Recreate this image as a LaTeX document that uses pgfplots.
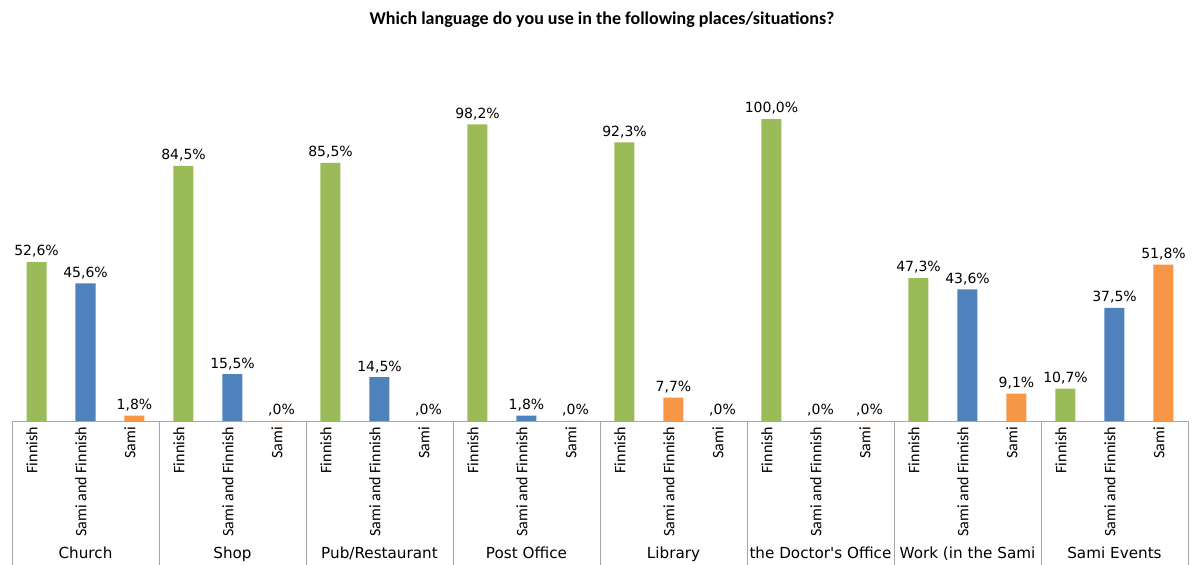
\documentclass[border=0pt]{standalone}
\usepackage{pgfplots}
\pgfplotsset{compat=1.18}
\usepackage{fontspec}
\setmainfont{Carlito}
\newfontfamily\dv{DejaVu Sans}
\definecolor{cgreen}{HTML}{9BBB59}
\definecolor{cblue}{HTML}{4F81BD}
\definecolor{corange}{HTML}{F79646}
\definecolor{cgrid}{HTML}{A6A6A6}
\begin{document}
\begin{tikzpicture}[x=1pt,y=1pt]
\path[use as bounding box] (0,0) rectangle (1192,565);
\node[font=\bfseries\fontsize{18}{20}\selectfont] at (602,545) {Which language do you use in the following places/situations?};
\begin{axis}[
  at={(36.5pt,144pt)}, anchor=origin,
  scale only axis, width=1176pt, height=371pt,
  xmin=-0.5, xmax=23.5, ymin=0, ymax=122.85,
  ybar, bar width=20pt,
  axis x line*=bottom, axis y line=none,
  x axis line style={cgrid, line width=0.8pt, -},
  xtick={0,...,23},
  xticklabels={Finnish,Sami and Finnish,Sami,Finnish,Sami and Finnish,Sami,Finnish,Sami and Finnish,Sami,Finnish,Sami and Finnish,Sami,Finnish,Sami and Finnish,Sami,Finnish,Sami and Finnish,Sami,Finnish,Sami and Finnish,Sami,Finnish,Sami and Finnish,Sami},
  major tick length=0pt,
  xticklabel style={rotate=90, anchor=base east, font=\fontsize{16}{18}\selectfont, inner sep=0pt, xshift=-6pt, yshift=-1pt},
  extra x ticks={-0.5,2.5,5.5,8.5,11.5,14.5,17.5,20.5,23.5},
  extra x tick labels={},
  extra x tick style={major tick length=150pt, tick align=outside, tick style={cgrid, line width=0.8pt}},
  clip=false,
  nodes near coords,
  point meta=explicit symbolic,
  every node near coord/.append style={font=\dv\fontsize{14}{16}\selectfont, black, yshift=1pt},
]
\addplot[bar shift=0pt, fill=cgreen, draw=none] coordinates {
  (0,52.6) [52,6\%]
  (3,84.5) [84,5\%]
  (6,85.5) [85,5\%]
  (9,98.2) [98,2\%]
  (12,92.3) [92,3\%]
  (15,100.0) [100,0\%]
  (18,47.3) [47,3\%]
  (21,10.7) [10,7\%]
};
\addplot[bar shift=0pt, fill=cblue, draw=none] coordinates {
  (1,45.6) [45,6\%]
  (4,15.5) [15,5\%]
  (7,14.5) [14,5\%]
  (10,1.8) [1,8\%]
  (16,0) [,0\%]
  (19,43.6) [43,6\%]
  (22,37.5) [37,5\%]
};
\addplot[bar shift=0pt, fill=corange, draw=none] coordinates {
  (2,1.8) [1,8\%]
  (5,0) [,0\%]
  (8,0) [,0\%]
  (11,0) [,0\%]
  (13,7.7) [7,7\%]
  (14,0) [,0\%]
  (17,0) [,0\%]
  (20,9.1) [9,1\%]
  (23,51.8) [51,8\%]
};
\tikzset{grplab/.style={font=\dv\fontsize{15.2}{17}\selectfont, anchor=base, yshift=-137pt}}
\node[grplab] at (axis cs:1,0) {Church};
\node[grplab] at (axis cs:4,0) {Shop};
\node[grplab] at (axis cs:7,0) {Pub/Restaurant};
\node[grplab] at (axis cs:10,0) {Post Office};
\node[grplab] at (axis cs:13,0) {Library};
\node[grplab] at (axis cs:16,0) {the Doctor's Office};
\node[grplab] at (axis cs:19,0) {Work (in the Sami};
\node[grplab] at (axis cs:22,0) {Sami Events};
\end{axis}
\end{tikzpicture}
\end{document}
